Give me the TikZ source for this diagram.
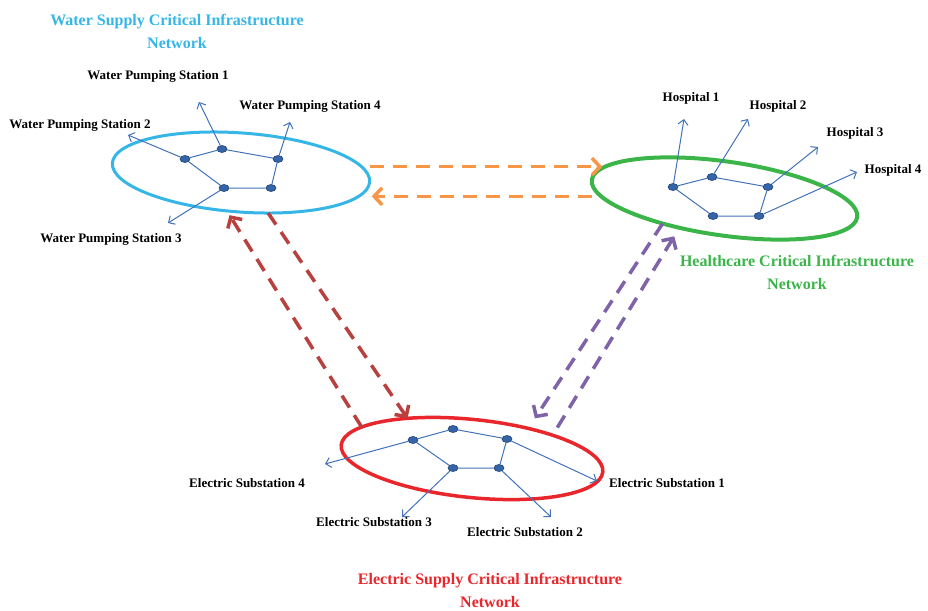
\documentclass[tikz,border=0pt]{standalone}
\usepackage{fontspec}
\setmainfont{Liberation Serif}
\usepackage{tikz}
\usetikzlibrary{shapes.geometric,arrows.meta}
\definecolor{waterblue}{HTML}{35B6E6}
\definecolor{healthgreen}{HTML}{3BB54A}
\definecolor{powerred}{HTML}{E8262B}
\definecolor{linkblue}{HTML}{4272B8}
\definecolor{dotblue}{HTML}{3565A8}
\definecolor{dotedge}{HTML}{1E3F73}
\definecolor{dashorange}{HTML}{F79646}
\definecolor{dashred}{HTML}{B8403E}
\definecolor{dashpurple}{HTML}{7F63A8}

\tikzset{
  net/.style={ellipse,draw,inner sep=0pt,outer sep=0pt},
  stn/.style={ellipse,fill=dotblue,draw=dotedge,line width=0.6pt,minimum width=10pt,minimum height=7pt,inner sep=0pt},
  link/.style={linkblue,line width=1pt},
  feed/.style={link,-{Straight Barb[length=5pt,width=10pt]}},
  tag/.style={font=\bfseries\fontsize{13}{15}\selectfont},
  nettitle/.style={font=\bfseries\fontsize{16}{23}\selectfont,align=center},
  dep/.style={line width=3.5pt,dash pattern=on 14pt off 9pt,-{Straight Barb[length=8pt,width=17pt]}}
}

\begin{document}
\begin{tikzpicture}[x=1pt,y=-1pt]
\useasboundingbox (0,0) rectangle (928,610);

\node[net,draw=waterblue,line width=3pt,minimum width=258pt,minimum height=79pt,rotate=-4.2] (water) at (241,172.5) {};
\node[net,draw=healthgreen,line width=4pt,minimum width=268pt,minimum height=74pt,rotate=-8] (health) at (724.5,198.5) {};
\node[net,draw=powerred,line width=3.5pt,minimum width=263pt,minimum height=78pt,rotate=-5.9] (power) at (472,458.5) {};

\node[nettitle,text=waterblue] (watertitle) at (177,31) {Water Supply Critical Infrastructure\\Network};
\node[nettitle,text=healthgreen] (healthtitle) at (797,272) {Healthcare Critical Infrastructure\\Network};
\node[nettitle,text=powerred] (powertitle) at (490,590) {Electric Supply Critical Infrastructure\\Network};

\node[stn] (w1) at (185,159) {};
\node[stn] (w2) at (222,149) {};
\node[stn] (w3) at (278,159) {};
\node[stn] (w4) at (271,188) {};
\node[stn] (w5) at (224,188) {};
\draw[link] (w1) -- (w2) -- (w3) -- (w4) -- (w5) -- (w1);
\coordinate (wps1) at (199,102);
\coordinate (wps2) at (128,135);
\coordinate (wps3) at (168,223);
\coordinate (wps4) at (290,122);
\draw[feed] (w2) -- (wps1);
\draw[feed] (w1) -- (wps2);
\draw[feed] (w5) -- (wps3);
\draw[feed] (w3) -- (wps4);
\node[tag] (wps1lbl) at (158,76) {Water Pumping Station 1};
\node[tag] (wps2lbl) at (80,125) {Water Pumping Station 2};
\node[tag] (wps3lbl) at (111,239) {Water Pumping Station 3};
\node[tag] (wps4lbl) at (310,106) {Water Pumping Station 4};

\node[stn] (h1) at (673,187) {};
\node[stn] (h2) at (712,177) {};
\node[stn] (h3) at (768,187) {};
\node[stn] (h4) at (759,216) {};
\node[stn] (h5) at (713,216) {};
\draw[link] (h1) -- (h2) -- (h3) -- (h4) -- (h5) -- (h1);
\coordinate (hosp1) at (684,119);
\coordinate (hosp2) at (748,119);
\coordinate (hosp3) at (818,147);
\coordinate (hosp4) at (857,172);
\draw[feed] (h1) -- (hosp1);
\draw[feed] (h2) -- (hosp2);
\draw[feed] (h3) -- (hosp3);
\draw[feed] (h4) -- (hosp4);
\node[tag] (hosp1lbl) at (691,98) {Hospital 1};
\node[tag] (hosp2lbl) at (778,106) {Hospital 2};
\node[tag] (hosp3lbl) at (855,133) {Hospital 3};
\node[tag] (hosp4lbl) at (893,170) {Hospital 4};

\node[stn] (p1) at (413,440) {};
\node[stn] (p2) at (453,429) {};
\node[stn] (p3) at (507,439) {};
\node[stn] (p4) at (499,468) {};
\node[stn] (p5) at (453,468) {};
\draw[link] (p1) -- (p2) -- (p3) -- (p4) -- (p5) -- (p1);
\coordinate (sub1) at (597,481);
\coordinate (sub2) at (551,517);
\coordinate (sub3) at (402,517);
\coordinate (sub4) at (325,464);
\draw[feed] (p3) -- (sub1);
\draw[feed] (p4) -- (sub2);
\draw[feed] (p5) -- (sub3);
\draw[feed] (p1) -- (sub4);
\node[tag] (sub1lbl) at (667,483) {Electric Substation 1};
\node[tag] (sub2lbl) at (525,532) {Electric Substation 2};
\node[tag] (sub3lbl) at (374,522) {Electric Substation 3};
\node[tag] (sub4lbl) at (247,483) {Electric Substation 4};

\draw[dep,dashorange] ([xshift=9pt]water.7) -- (water.7 -| health.174);
\draw[dep,dashorange] ([xshift=-9pt]health.187) -- ([xshift=10pt]water.-6 |- health.187);
\draw[dep,dashred,shorten >=5pt] (power.170) -- (water.254);
\draw[dep,dashred] (water.308) -- (power.154);
\draw[dep,dashpurple,shorten >=12pt] (health.210) -- (power.34);
\draw[dep,dashpurple,shorten <=9pt,shorten >=10pt] (power.22) -- (health.221);
\end{tikzpicture}
\end{document}
